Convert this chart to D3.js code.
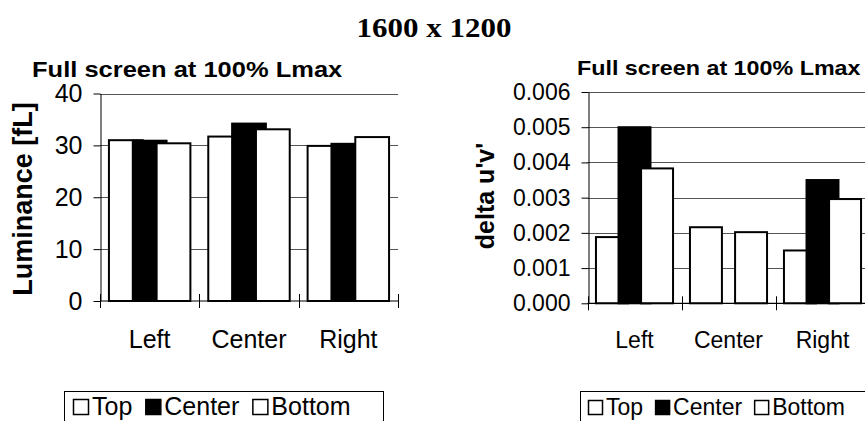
<!DOCTYPE html>
<html>
<head>
<meta charset="utf-8">
<script src="https://cdn.jsdelivr.net/npm/d3@7/dist/d3.min.js"></script>
<style>
  html, body { margin: 0; padding: 0; background: #fff; }
  svg { display: block; }
  text { font-family: "Liberation Sans", Arial, sans-serif; fill: #000; }
</style>
</head>
<body>
<svg id="chart" width="865" height="421"></svg>
<script>
// ---------------- DATA ----------------
const mainTitle = "1600 x 1200";
const panelTitle = "Full screen at 100% Lmax";
const categories = ["Left", "Center", "Right"];
const seriesNames = ["Top", "Center", "Bottom"];
const seriesFills = ["#ffffff", "#000000", "#ffffff"];

const luminanceTop = [31.0, 31.7, 29.9];
const luminanceCenter = [30.9, 34.2, 30.3];
const luminanceBottom = [30.4, 33.1, 31.6];
const luminanceTicks = [0, 10, 20, 30, 40];
const luminanceLabel = "Luminance [fL]";

const deltaTop = [0.00188, 0.00216, 0.00150];
const deltaCenter = [0.00500, 0.00000, 0.00350];
const deltaBottom = [0.00383, 0.00202, 0.00296];
const deltaTicks = [0, 0.001, 0.002, 0.003, 0.004, 0.005, 0.006];
const deltaLabel = "delta u'v'";

// ---------------- DRAW ----------------
const svg = d3.select("#chart");

svg.append("text")
  .attr("transform", "translate(434,37) scale(1,0.88)")
  .attr("text-anchor", "middle")
  .style("font-family", "'Liberation Serif', 'Times New Roman', serif")
  .style("font-weight", "bold")
  .style("font-size", "31px")
  .text(mainTitle);

function panel(cfg) {
  const g = svg.append("g");
  const x = d3.scaleBand().domain(categories).range([cfg.x0, cfg.x1]).padding(0);
  const y = d3.scaleLinear().domain([cfg.ticks[0], cfg.ticks[cfg.ticks.length - 1]])
    .range([cfg.yBottom, cfg.yTop]);

  // gridlines
  g.append("g").selectAll("line").data(cfg.ticks.slice(1)).join("line")
    .attr("x1", cfg.x0).attr("x2", cfg.x1)
    .attr("y1", d => Math.round(y(d)) + 0.5).attr("y2", d => Math.round(y(d)) + 0.5)
    .attr("stroke", "#555").attr("stroke-width", 1);

  // y axis
  const yAxis = d3.axisLeft(y).tickValues(cfg.ticks).tickFormat(cfg.fmt)
    .tickSizeInner(7).tickSizeOuter(0).tickPadding(cfg.tickPad);
  const ya = g.append("g").attr("transform", `translate(${Math.round(cfg.x0) + 0.5},0)`).call(yAxis);
  ya.select(".domain").attr("stroke", "#000");
  ya.selectAll(".tick line").attr("stroke", "#000");
  ya.selectAll(".tick text").style("font-size", cfg.fs + "px")
    .style("font-family", "'Liberation Sans', Arial, sans-serif").attr("fill", "#000");

  // bars
  const series = cfg.series;
  const bw = x.bandwidth();
  const barW = bw * 0.34, stepW = bw * 0.24, off = (bw - (barW + 2 * stepW)) / 2;
  series.forEach((vals, si) => {
    g.append("g").selectAll("rect").data(vals).join("rect")
      .attr("x", (d, i) => x(categories[i]) + off + si * stepW)
      .attr("width", barW)
      .attr("y", d => y(d))
      .attr("height", d => y(0) - y(d))
      .attr("fill", seriesFills[si])
      .attr("stroke", "#000")
      .attr("stroke-width", 2);
  });

  // x axis baseline + crossing ticks
  const xa = g.append("g");
  xa.append("line").attr("x1", cfg.x0).attr("x2", cfg.x1)
    .attr("y1", y(0)).attr("y2", y(0)).attr("stroke", "#000").attr("stroke-width", 1.2);
  const bounds = categories.map(c => x(c)).concat([cfg.x1]);
  xa.selectAll("line.t").data(bounds).join("line").attr("class", "t")
    .attr("x1", d => Math.round(d) + 0.5).attr("x2", d => Math.round(d) + 0.5)
    .attr("y1", y(0) - 7).attr("y2", y(0) + 7).attr("stroke", "#000");
  xa.selectAll("text").data(categories).join("text")
    .attr("x", d => x(d) + bw / 2).attr("y", cfg.xLabelY)
    .attr("text-anchor", "middle").style("font-size", cfg.fs + "px").text(d => d);

  // panel title
  g.append("text").attr("transform", `translate(${cfg.titleX},${cfg.titleY}) scale(1,0.9)`)
    .style("font-weight", "bold").style("font-size", cfg.titleFs + "px").text(panelTitle);

  // y title
  g.append("text")
    .attr("transform", `translate(${cfg.yTitleX},${cfg.yTitleY}) rotate(-90)`)
    .attr("text-anchor", "middle")
    .style("font-weight", "bold").style("font-size", cfg.yTitleFs + "px").text(cfg.yLabel);

  // legend
  const lg = g.append("g");
  const box = lg.append("rect").attr("x", cfg.legX + 0.5).attr("y", cfg.legY + 0.5)
    .attr("height", 60).attr("fill", "#fff").attr("stroke", "#000").attr("stroke-width", 1);
  let cx = cfg.legX + cfg.legPad;
  const s = cfg.legSq;
  seriesNames.forEach((name, si) => {
    lg.append("rect").attr("x", cx + 0.5).attr("y", cfg.legTextY - s + 0.5)
      .attr("width", s - 1).attr("height", s - 1)
      .attr("fill", seriesFills[si]).attr("stroke", "#000").attr("stroke-width", 1.5);
    cx += s + 3;
    const t = lg.append("text").attr("x", cx).attr("y", cfg.legTextY)
      .style("font-size", cfg.fs + "px").text(name);
    cx += t.node().getComputedTextLength() + cfg.legGap;
  });
  box.attr("width", cfg.legW);
}

panel({
  x0: 100, x1: 398, yTop: 93.5, yBottom: 301,
  ticks: luminanceTicks, fmt: d3.format("d"),
  series: [luminanceTop, luminanceCenter, luminanceBottom],
  fs: 25, tickPad: 11, xLabelY: 348,
  titleX: 32, titleY: 77, titleFs: 25.5,
  yLabel: luminanceLabel, yTitleX: 32, yTitleY: 199, yTitleFs: 27,
  legX: 64, legY: 391, legW: 319, legPad: 9, legSq: 16, legTextY: 415, legGap: 13
});

panel({
  x0: 587.5, x1: 869.5, yTop: 92, yBottom: 303.3,
  ticks: deltaTicks, fmt: d3.format(".3f"),
  series: [deltaTop, deltaCenter, deltaBottom],
  fs: 23, tickPad: 11, xLabelY: 348,
  titleX: 577, titleY: 75, titleFs: 23.3,
  yLabel: deltaLabel, yTitleX: 494, yTitleY: 196, yTitleFs: 25,
  legX: 580, legY: 391, legW: 320, legPad: 8, legSq: 15, legTextY: 415, legGap: 12
});
</script>
</body>
</html>
